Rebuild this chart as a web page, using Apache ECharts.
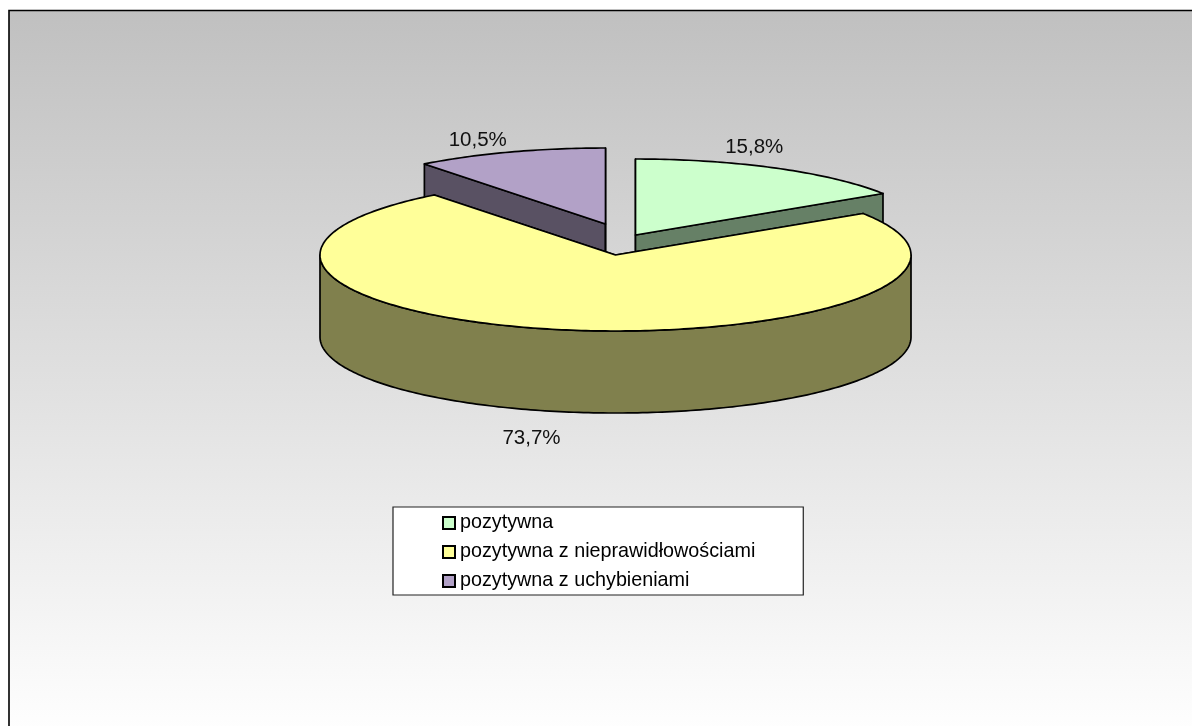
<!DOCTYPE html>
<html>
<head>
<meta charset="utf-8">
<style>html,body{margin:0;padding:0;background:#fff}#c{width:1192px;height:726px}</style>
<script src="https://cdn.jsdelivr.net/npm/echarts@6/dist/echarts.min.js"></script>
</head>
<body>
<div id="c"></div>
<script>
const categories = ['pozytywna', 'pozytywna z nieprawidłowościami', 'pozytywna z uchybieniami'];
const values = [15.8, 73.7, 10.5];
const topColors = ['#CCFFCC', '#FFFF99', '#B2A1C7'];
const wallColors = ['#668066', '#80804D', '#595163'];
const explodeX = [20, 0, -10];
const explodeY = [-20, 0, -31];
const labelDX = [-22, -35, -32];
const labelDY = [-21, 26, -12];
const drawOrder = [0, 2, 1];

const CX = 615.5, CY = 255, RX = 295.5, RY = 76, DEPTH = 82;
const total = values.reduce((a, b) => a + b, 0);
const starts = [];
values.reduce((acc, v, i) => { starts[i] = acc; return acc + v; }, 0);

function pt(cx, cy, t) { return [cx + RX * Math.sin(t), cy - RY * Math.cos(t)]; }
function arc(cx, cy, a, b) {
  const n = Math.max(2, Math.ceil(Math.abs(b - a) * 60)), out = [];
  for (let k = 0; k <= n; k++) out.push(pt(cx, cy, a + (b - a) * k / n));
  return out;
}

function renderSlice(i, params, api) {
  const a0 = starts[i] / total * 2 * Math.PI;
  const a1 = a0 + api.value(0) / total * 2 * Math.PI;
  const cx = CX + explodeX[i], cy = CY + explodeY[i];
  const stroke = { stroke: '#000', lineWidth: 1.7, lineJoin: 'round' };
  const children = [];
  const poly = (points, fill) => children.push({ type: 'polygon', shape: { points }, style: Object.assign({ fill }, stroke) });
  const apex = [cx, cy];
  const down = p => [p[0], p[1] + DEPTH];
  [a0, a1].forEach(t => {
    const p = pt(cx, cy, t);
    poly([apex, p, down(p), down(apex)], wallColors[i]);
  });
  const lo = Math.max(a0, Math.PI / 2), hi = Math.min(a1, 3 * Math.PI / 2);
  if (hi > lo) {
    const top = arc(cx, cy, lo, hi);
    poly(top.concat(top.slice().reverse().map(down)), wallColors[i]);
  }
  poly([apex].concat(arc(cx, cy, a0, a1)), topColors[i]);
  const mid = (a0 + a1) / 2, m = pt(cx, cy, mid);
  const onFront = Math.cos(mid) < 0;
  children.push({
    type: 'text',
    style: {
      x: m[0] + labelDX[i], y: m[1] + (onFront ? DEPTH : 0) + labelDY[i],
      text: api.value(0).toFixed(1).replace('.', ',') + '%',
      fill: '#111', font: '20.5px "Liberation Sans", Arial, sans-serif',
      align: 'center', verticalAlign: 'middle'
    }
  });
  return { type: 'group', children };
}

const series = drawOrder.map(i => ({
  type: 'custom',
  name: categories[i],
  coordinateSystem: 'none',
  silent: true,
  itemStyle: { color: topColors[i], borderColor: '#000', borderWidth: 1.7 },
  data: [[values[i]]],
  renderItem: (p, api) => renderSlice(i, p, api)
}));

const chart = echarts.init(document.getElementById('c'), null, { renderer: 'canvas' });
chart.setOption({
  animation: false,
  backgroundColor: '#fff',
  graphic: [{
    type: 'rect', z: -10, silent: true,
    shape: { x: 9, y: 10.5, width: 1300, height: 730 },
    style: {
      stroke: '#000', lineWidth: 1.6,
      fill: new echarts.graphic.LinearGradient(0, 0, 0, 1, [
        { offset: 0, color: '#C0C0C0' }, { offset: 1, color: '#FFFFFF' }
      ])
    }
  }],
  legend: {
    data: categories,
    orient: 'vertical',
    left: 393, top: 507,
    padding: [6, 48, 4, 49],
    icon: 'rect',
    itemWidth: 12, itemHeight: 12, itemGap: 9,
    selectedMode: false,
    backgroundColor: '#fff',
    borderColor: '#222', borderWidth: 1.2,
    textStyle: { color: '#000', fontFamily: '"Liberation Sans", Arial, sans-serif', fontSize: 19.75, lineHeight: 19 }
  },
  series
});
</script>
</body>
</html>
